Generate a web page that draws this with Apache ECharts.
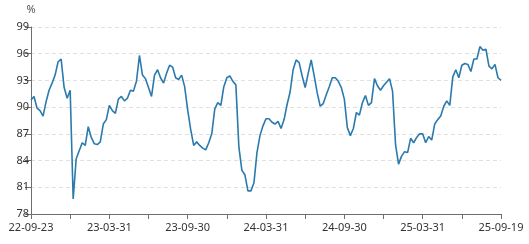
<!DOCTYPE html>
<html>
<head>
<meta charset="utf-8">
<script src="https://cdn.jsdelivr.net/npm/echarts@6/dist/echarts.min.js"></script>
<style>
html,body{margin:0;padding:0;background:#fff;}
#chart{width:529px;height:244px;}
</style>
</head>
<body>
<div id="chart"></div>
<script>
// Tick labels shown on the x axis (every 26th point)
const tickLabels = ['22-09-23', '23-03-31', '23-09-30', '24-03-31', '24-09-30', '25-03-31', '25-09-19'];

const values = [
  90.8, 91.2, 89.9, 89.6, 89.0, 90.6, 91.9, 92.7, 93.6, 95.1,
  95.4, 92.2, 91.0, 91.9, 79.7, 84.2, 85.1, 86.0, 85.7, 87.8,
  86.6, 85.9, 85.8, 86.1, 88.1, 88.6, 90.2, 89.6, 89.3, 90.9,
  91.2, 90.7, 91.0, 91.9, 91.8, 92.9, 95.8, 93.6, 93.2, 92.2,
  91.2, 93.6, 94.2, 93.3, 92.7, 93.8, 94.7, 94.5, 93.3, 93.1,
  93.6, 92.3, 89.7, 87.5, 85.7, 86.1, 85.7, 85.4, 85.2, 86.0,
  87.0, 89.8, 90.5, 90.2, 92.3, 93.3, 93.5, 92.9, 92.5, 85.5,
  82.9, 82.4, 80.6, 80.6, 81.5, 84.9, 86.8, 87.9, 88.7, 88.7,
  88.3, 88.1, 88.4, 87.6, 88.6, 90.3, 91.7, 94.2, 95.3, 95.0,
  93.5, 92.2, 93.8, 95.3, 93.5, 91.6, 90.1, 90.4, 91.4, 92.3,
  93.3, 93.3, 92.9, 92.2, 90.9, 87.7, 86.8, 87.6, 89.4, 89.1,
  90.5, 91.3, 90.2, 90.5, 93.2, 92.4, 91.9, 92.4, 92.8, 93.2,
  91.8, 85.8, 83.6, 84.5, 85.0, 84.9, 86.5, 86.0, 86.6, 87.0,
  87.0, 86.0, 86.7, 86.3, 88.1, 88.6, 89.0, 90.1, 90.7, 90.2,
  93.4, 94.2, 93.3, 94.7, 94.9, 94.8, 94.0, 95.4, 95.4, 96.8,
  96.4, 96.5, 94.6, 94.3, 94.8, 93.3, 93.0
];

// Categories: one per observation (index positions)
const categories = values.map((_, i) => String(i));

const LABEL_STEP = 26;
const TICK_STEP = 13;

const chart = echarts.init(document.getElementById('chart'), null, {renderer: 'canvas'});
const fontFamily = '"Noto Sans", sans-serif';
chart.setOption({
  animation: false,
  grid: {left: 31, right: 28, top: 27, bottom: 30, containLabel: false},
  xAxis: {
    type: 'category',
    data: categories,
    boundaryGap: false,
    axisLine: {show: true, lineStyle: {color: '#6e6e6e', width: 1}},
    axisTick: {show: true, interval: TICK_STEP - 1, length: 5, lineStyle: {color: '#6e6e6e'}},
    axisLabel: {
      interval: LABEL_STEP - 1,
      color: '#333',
      fontSize: 11,
      fontFamily: fontFamily,
      margin: 8,
      formatter: function (v, i) { return tickLabels[Math.round(i / LABEL_STEP)] || ''; }
    },
    splitLine: {show: false}
  },
  yAxis: {
    type: 'value',
    min: 78, max: 99, interval: 3,
    name: '%',
    nameLocation: 'end',
    nameGap: 12,
    nameTextStyle: {color: '#555', fontSize: 11, fontFamily: fontFamily, align: 'center'},
    axisLine: {show: true, lineStyle: {color: '#6e6e6e', width: 1}},
    axisTick: {show: true, length: 6, lineStyle: {color: '#6e6e6e'}},
    axisLabel: {color: '#333', fontSize: 11, fontFamily: fontFamily, margin: 2},
    splitLine: {show: true, lineStyle: {color: '#e0e0e0', type: [4, 3], width: 1}}
  },
  series: [{
    type: 'line',
    data: values,
    showSymbol: false,
    symbol: 'none',
    lineStyle: {color: '#2a7aae', width: 1.6},
    itemStyle: {color: '#2a7aae'}
  }]
});
</script>
</body>
</html>
